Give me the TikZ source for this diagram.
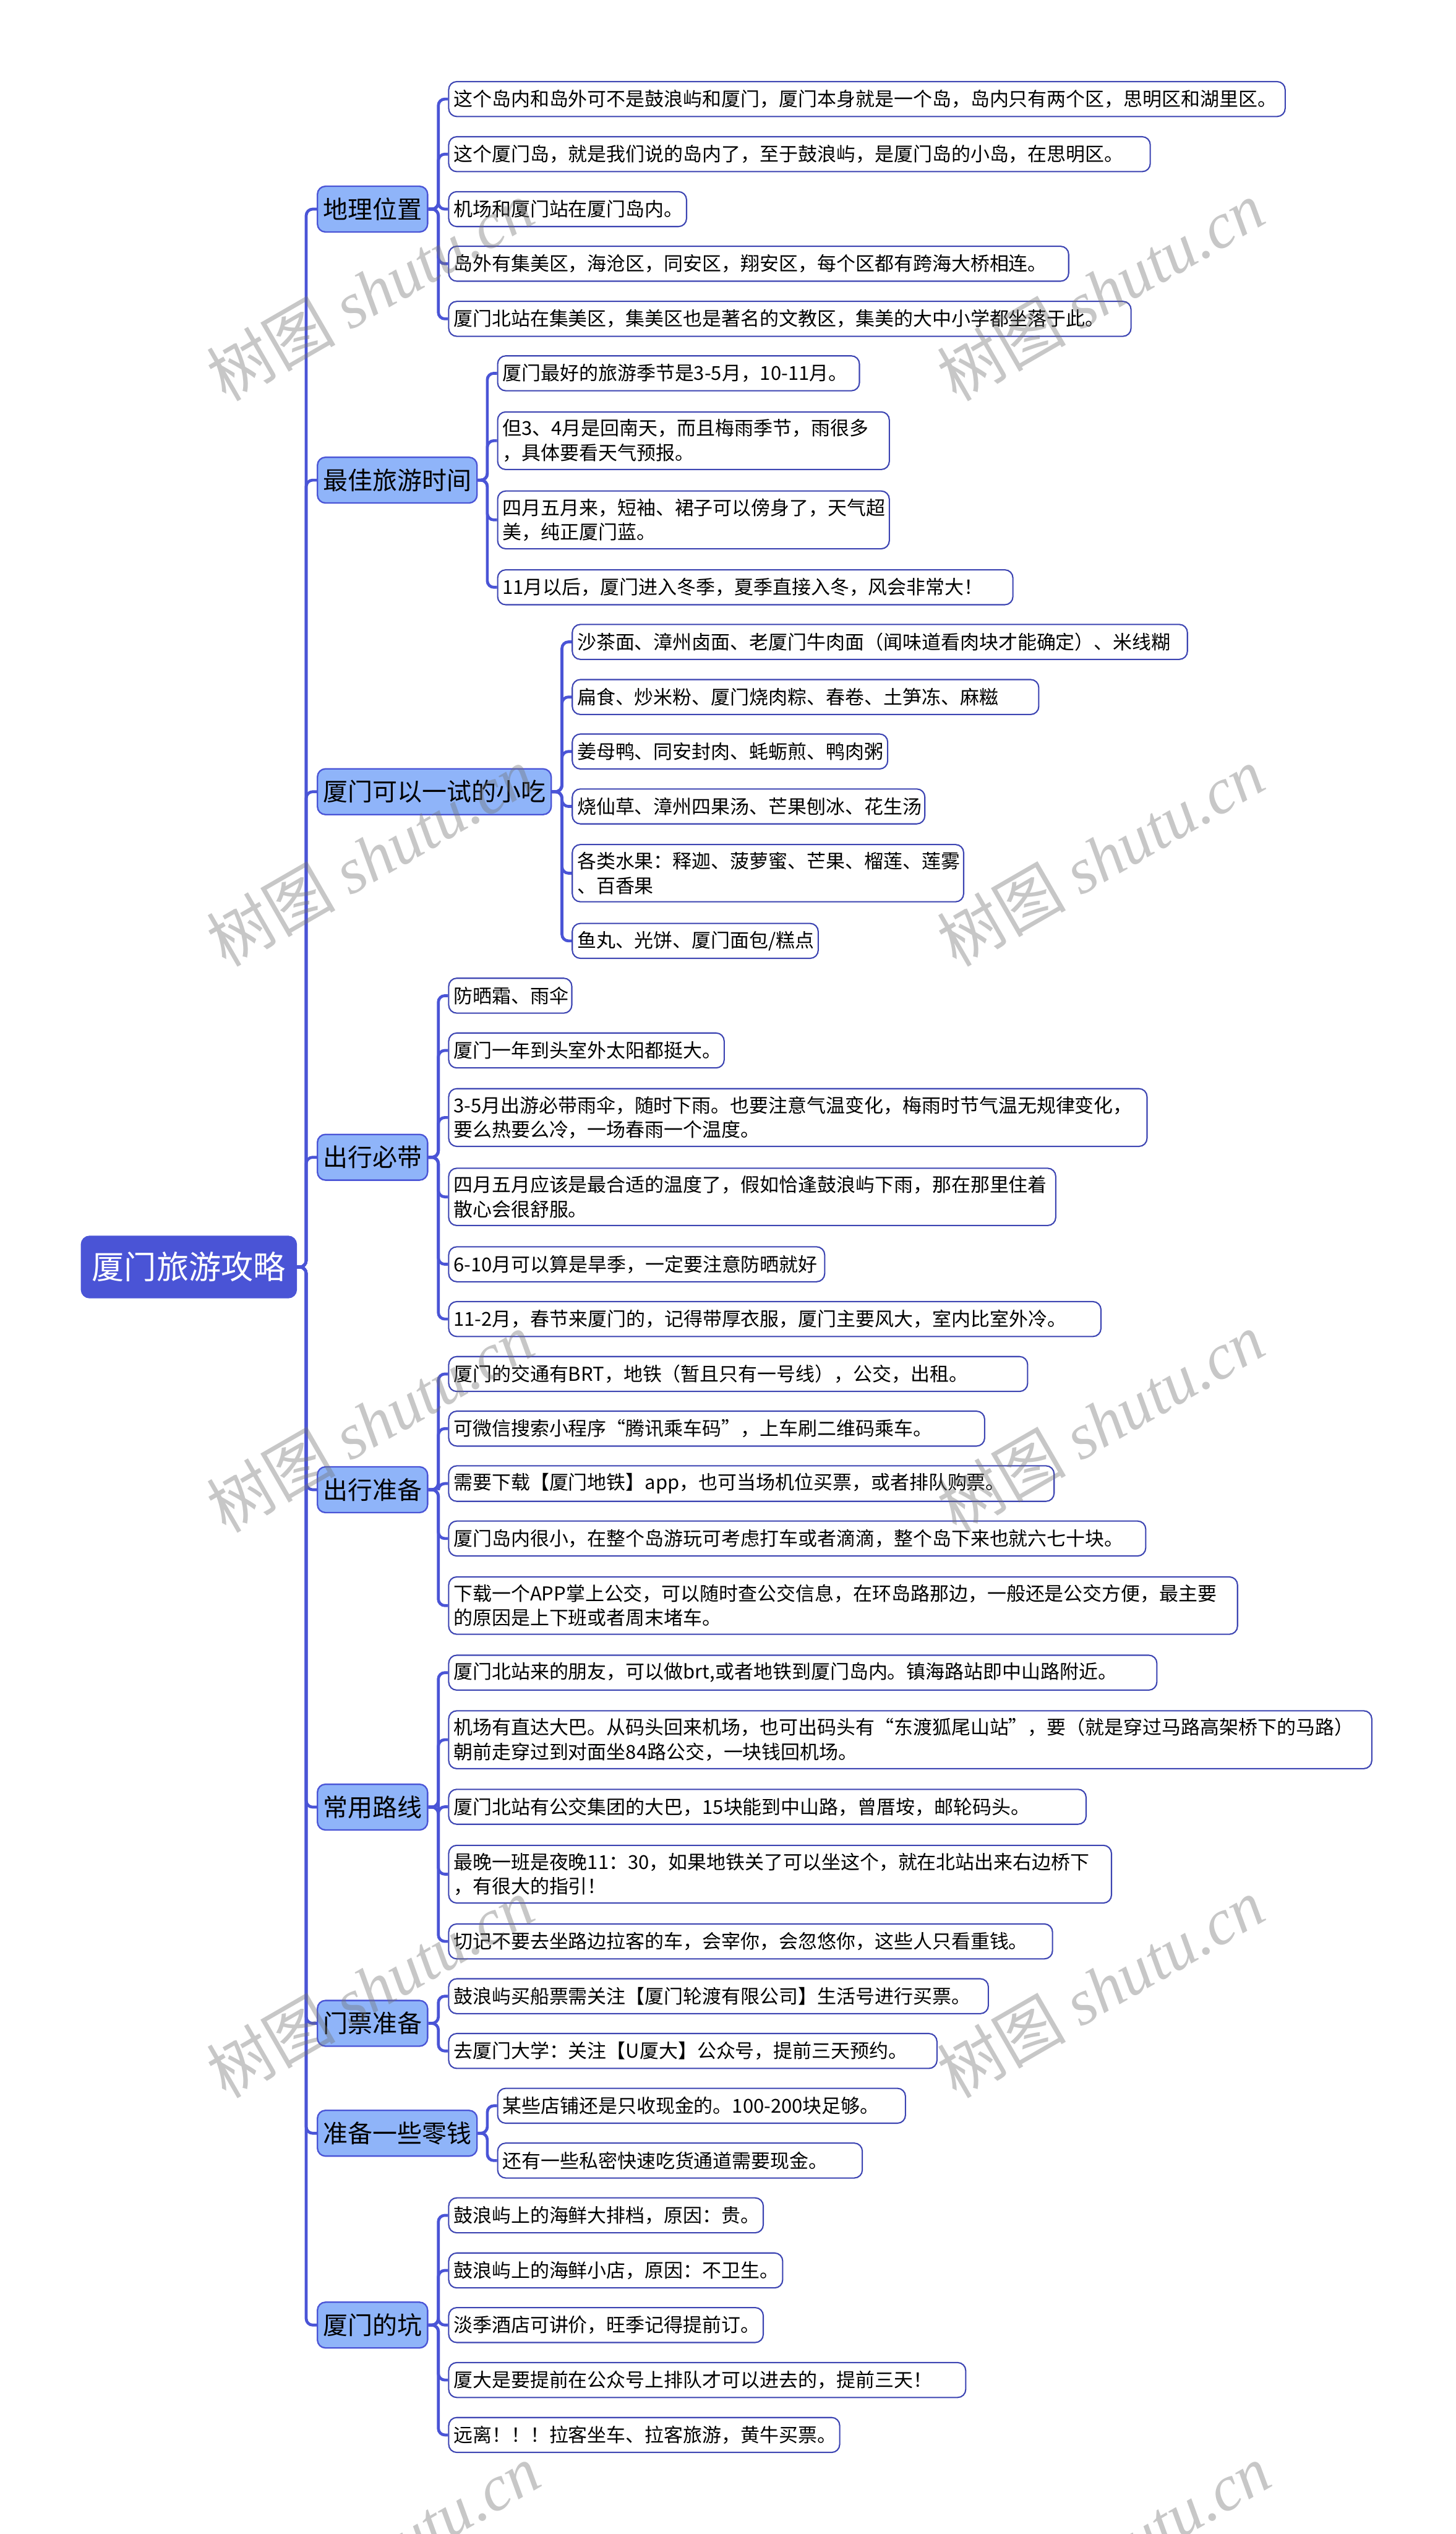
\documentclass[tikz,border=0pt]{standalone}
\usepackage{fontspec}
\setmainfont{Noto Sans CJK SC}
\newfontfamily\wmcjk{Noto Sans CJK SC}
\newfontfamily\wmlat{Liberation Serif}
\definecolor{rootblue}{HTML}{4A54D6}
\definecolor{topicblue}{HTML}{8FB4F9}
\definecolor{leafline}{HTML}{3C44B2}

\begin{document}
\begin{tikzpicture}[%
x=1pt, y=-1pt,
root/.style={draw=rootblue, fill=rootblue, text=white, rounded corners=5pt, line width=0.8pt,
  font=\fontsize{20}{24}\selectfont, inner xsep=6.5pt, minimum height=38pt, anchor=west},
topic/.style={draw=rootblue, fill=topicblue, text=black, rounded corners=5pt, line width=0.9pt,
  font=\fontsize{15.3}{18}\selectfont, inner xsep=3.5pt, minimum height=28.3pt, anchor=west},
leaf/.style={draw=leafline, fill=white, text=black, rounded corners=5pt, line width=0.8pt,
  font=\fontsize{11.85}{15.2}\selectfont, inner xsep=3pt, inner ysep=4.6pt,
  minimum height=21.6pt, align=left, anchor=west, text width=#1},
conn/.style={draw=rootblue, line width=1.8pt, rounded corners=4pt},
wmark/.style={text=black!55, text opacity=0.4, rotate=30, font=\fontsize{40}{40}\selectfont},
]
\useasboundingbox (0,0) rectangle (901,1568);
\clip (0,0) rectangle (901,1568);
%% root;
\node[root] (root) at (50,784) {厦门旅游攻略};
%% topics;
\node[topic] (geo) at (196,129.4) {地理位置};
\node[topic] (best) at (196,297.1) {最佳旅游时间};
\node[topic] (snack) at (196,489.9) {厦门可以一试的小吃};
\node[topic] (carry) at (196,716.1) {出行必带};
\node[topic] (prep) at (196,921.8) {出行准备};
\node[topic] (route) at (196,1118.2) {常用路线};
\node[topic] (ticket) at (196,1252) {门票准备};
\node[topic] (cash) at (196,1320) {准备一些零钱};
\node[topic] (trap) at (196,1438.7) {厦门的坑};
%% geo leaves;
\node[leaf=511.7pt] (geo1) at (277.3,61.3) {这个岛内和岛外可不是鼓浪屿和厦门，厦门本身就是一个岛，岛内只有两个区，思明区和湖里区。};
\node[leaf=428.2pt] (geo2) at (277.3,95.4) {这个厦门岛，就是我们说的岛内了，至于鼓浪屿，是厦门岛的小岛，在思明区。};
\node[leaf=141.2pt] (geo3) at (277.3,129.4) {机场和厦门站在厦门岛内。};
\node[leaf=377.7pt] (geo4) at (277.3,163.2) {岛外有集美区，海沧区，同安区，翔安区，每个区都有跨海大桥相连。};
\node[leaf=416.3pt] (geo5) at (277.3,197.3) {厦门北站在集美区，集美区也是著名的文教区，集美的大中小学都坐落于此。};
%% best leaves;
\node[leaf=217.9pt] (best1) at (307.6,231) {厦门最好的旅游季节是3-5月，10-11月。};
\node[leaf=236.4pt] (best2) at (307.6,272.7) {但3、4月是回南天，而且梅雨季节，雨很多\\，具体要看天气预报。};
\node[leaf=236.4pt] (best3) at (307.6,321.7) {四月五月来，短袖、裙子可以傍身了，天气超\\美，纯正厦门蓝。};
\node[leaf=312.9pt] (best4) at (307.6,363.4) {11月以后，厦门进入冬季，夏季直接入冬，风会非常大！};
%% snack leaves;
\node[leaf=374.7pt] (snack1) at (353.8,397.2) {沙茶面、漳州卤面、老厦门牛肉面（闻味道看肉块才能确定）、米线糊};
\node[leaf=282.7pt] (snack2) at (353.8,431.3) {扁食、炒米粉、厦门烧肉粽、春卷、土笋冻、麻糍};
\node[leaf=189.2pt] (snack3) at (353.8,465) {姜母鸭、同安封肉、蚝蛎煎、鸭肉粥};
\node[leaf=212.2pt] (snack4) at (353.8,499) {烧仙草、漳州四果汤、芒果刨冰、花生汤};
\node[leaf=236.2pt] (snack5) at (353.8,540.3) {各类水果：释迦、菠萝蜜、芒果、榴莲、莲雾\\、百香果};
\node[leaf=146.2pt] (snack6) at (353.8,582.2) {鱼丸、光饼、厦门面包/糕点};
%% carry leaves;
\node[leaf=70.2pt] (carry1) at (277.3,616.1) {防晒霜、雨伞};
\node[leaf=164.5pt] (carry2) at (277.3,650) {厦门一年到头室外太阳都挺大。};
\node[leaf=426.2pt] (carry3) at (277.3,691.5) {3-5月出游必带雨伞，随时下雨。也要注意气温变化，梅雨时节气温无规律变化，\\要么热要么冷，一场春雨一个温度。};
\node[leaf=369.7pt] (carry4) at (277.3,740.6) {四月五月应该是最合适的温度了，假如恰逢鼓浪屿下雨，那在那里住着\\散心会很舒服。};
\node[leaf=226.7pt] (carry5) at (277.3,782.3) {6-10月可以算是旱季，一定要注意防晒就好};
\node[leaf=397.7pt] (carry6) at (277.3,816.2) {11-2月，春节来厦门的，记得带厚衣服，厦门主要风大，室内比室外冷。};
%% prep leaves;
\node[leaf=352.3pt] (prep1) at (277.3,850.2) {厦门的交通有BRT，地铁（暂且只有一号线），公交，出租。};
\node[leaf=325.7pt] (prep2) at (277.3,884) {可微信搜索小程序“腾讯乘车码”，上车刷二维码乘车。};
\node[leaf=368.7pt] (prep3) at (277.3,918) {需要下载【厦门地铁】app，也可当场机位买票，或者排队购票。};
\node[leaf=425.4pt] (prep4) at (277.3,952) {厦门岛内很小，在整个岛游玩可考虑打车或者滴滴，整个岛下来也就六七十块。};
\node[leaf=482.2pt] (prep5) at (277.3,993.5) {下载一个APP掌上公交，可以随时查公交信息，在环岛路那边，一般还是公交方便，最主要\\的原因是上下班或者周末堵车。};
%% route leaves;
\node[leaf=432.3pt] (route1) at (277.3,1035) {厦门北站来的朋友，可以做brt,或者地铁到厦门岛内。镇海路站即中山路附近。};
\node[leaf=565.3pt] (route2) at (277.3,1076.5) {机场有直达大巴。从码头回来机场，也可出码头有“东渡狐尾山站”，要（就是穿过马路高架桥下的马路）\\朝前走穿过到对面坐84路公交，一块钱回机场。};
\node[leaf=388.5pt] (route3) at (277.3,1118) {厦门北站有公交集团的大巴，15块能到中山路，曾厝垵，邮轮码头。};
\node[leaf=404.2pt] (route4) at (277.3,1159.7) {最晚一班是夜晚11：30，如果地铁关了可以坐这个，就在北站出来右边桥下\\，有很大的指引！};
\node[leaf=367.7pt] (route5) at (277.3,1201.3) {切记不要去坐路边拉客的车，会宰你，会忽悠你，这些人只看重钱。};
%% ticket leaves;
\node[leaf=328pt] (ticket1) at (277.3,1235.2) {鼓浪屿买船票需关注【厦门轮渡有限公司】生活号进行买票。};
\node[leaf=296.2pt] (ticket2) at (277.3,1269.1) {去厦门大学：关注【U厦大】公众号，提前三天预约。};
%% cash leaves;
\node[leaf=246.4pt] (cash1) at (307.6,1303) {某些店铺还是只收现金的。100-200块足够。};
\node[leaf=219.7pt] (cash2) at (307.6,1336.9) {还有一些私密快速吃货通道需要现金。};
%% trap leaves;
\node[leaf=188.7pt] (trap1) at (277.3,1370.8) {鼓浪屿上的海鲜大排档，原因：贵。};
\node[leaf=200.7pt] (trap2) at (277.3,1404.9) {鼓浪屿上的海鲜小店，原因：不卫生。};
\node[leaf=188.7pt] (trap3) at (277.3,1438.7) {淡季酒店可讲价，旺季记得提前订。};
\node[leaf=314pt] (trap4) at (277.3,1472.7) {厦大是要提前在公众号上排队才可以进去的，提前三天！};
\node[leaf=236pt] (trap5) at (277.3,1506.7) {远离！！！拉客坐车、拉客旅游，黄牛买票。};
%% connectors;
\foreach \t in {geo,best,snack,carry,prep,route,ticket,cash,trap}
  \draw[conn] (root.east) -| ([xshift=-6.5pt]\t.west) -- (\t.west);
\foreach \t/\n in {geo/5,best/4,snack/6,carry/6,prep/5,route/5,ticket/2,cash/2,trap/5}
  \foreach \i in {1,...,\n}
    \draw[conn] (\t.east) -| ([xshift=-6pt]\t\i.west) -- (\t\i.west);
%% watermarks;
\foreach \x/\y [count=\k] in {229/180,681/180,229/530,681/530,229/880,681/880,229/1230,681/1230,233/1580,685/1580}
  \node[wmark] (wm\k) at (\x,\y) {{\wmcjk 树图} {\wmlat\itshape shutu.cn}};
\end{tikzpicture}
\end{document}
